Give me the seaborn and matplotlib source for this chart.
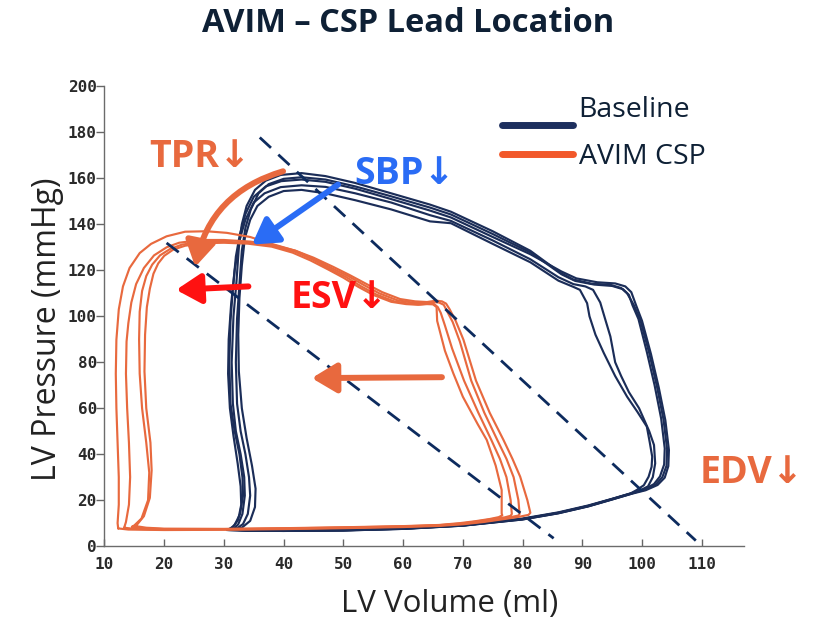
import matplotlib
matplotlib.use("Agg")
import matplotlib.pyplot as plt
import pandas as pd
import seaborn as sns
from matplotlib.lines import Line2D
from matplotlib.transforms import ScaledTranslation

# ---------------- data ----------------
# Baseline pressure-volume loops (volume ml, pressure mmHg)
base_vol_1 = [31.5, 34, 40, 50, 60, 70, 80, 86, 91, 95, 98, 100.5, 102.3, 103.4, 104.1, 104.2, 103.6, 102.5, 101.2, 99.7,
              98.6, 97.5, 96.5, 94.7, 91.5, 88.5, 86.3, 81.3, 75, 68, 64.5, 58, 52, 47, 43, 39.5, 37, 35.2, 33.8, 33,
              32.5, 32.1, 31.6, 31.3, 31.5, 32, 32.8, 33.4, 33.5, 33.1, 32.4, 31.5]
base_pres_1 = [7.2, 6.8, 6.7, 6.9, 7.6, 9, 11.8, 14.5, 17.5, 20.5, 22.8, 24.5, 26.8, 30, 35, 42, 55, 69.4, 84, 98.5,
               105, 110, 112.3, 113.7, 114.2, 116, 119, 128.5, 137, 145.5, 148.6, 153.5, 158, 161, 162.3, 161.5, 159, 155, 148, 140,
               130, 115, 100, 80, 62, 50, 40, 30, 22, 14, 9.5, 7.2]
base_vol_2 = [32, 35, 40, 50, 60, 70, 80, 86, 91, 95, 98, 100.3, 102, 103, 103.7, 103.8, 103.2, 102.1, 100.8, 99.4,
              98.4, 97.8, 96.8, 95, 92, 88.8, 86.5, 81.5, 75, 68, 64.5, 58, 52, 47, 43, 40, 37.5, 35.8, 34.5, 33.6,
              33, 32.6, 32.2, 32, 32.2, 32.8, 33.6, 34.2, 34.4, 34, 33.2, 32]
base_pres_2 = [7.4, 6.9, 6.8, 7, 7.7, 9.1, 12, 14.7, 17.7, 20.6, 22.9, 24.6, 27, 30.3, 35.5, 42.5, 55.5, 70, 84.5, 98.8,
               104.8, 109.3, 111.8, 113.2, 113.8, 115.4, 118.3, 127.5, 135.8, 144.3, 147.3, 152.2, 156.5, 159.5, 160.5, 159.8, 157.5, 153.5, 146.5, 138.5,
               128.5, 114, 99, 80, 62, 50, 40, 30, 22, 14, 9.6, 7.4]
base_vol_3 = [30.8, 34, 40, 50, 60, 70, 80, 86, 91, 95, 98, 100.6, 102.6, 103.8, 104.4, 104.5, 103.9, 102.8, 101.5, 100,
              99, 98.2, 97.2, 95.5, 92.5, 89, 86.5, 81.3, 75, 68, 64.5, 58, 52, 47, 43, 39.6, 37, 35, 33.6, 32.7,
              32, 31.5, 31.1, 30.9, 31.1, 31.8, 32.6, 33.1, 33.2, 32.7, 31.8, 30.8]
base_pres_3 = [7, 6.7, 6.6, 6.8, 7.5, 8.9, 11.6, 14.3, 17.3, 20.3, 22.6, 24.3, 26.6, 29.8, 34.8, 41.8, 54.8, 69, 83.5, 98,
               104.8, 110.5, 113, 114.3, 114.8, 116.5, 119.5, 127, 134.5, 143, 146, 151, 155.5, 158.5, 159.5, 158.8, 156.5, 152, 144.5, 136,
               126, 112, 98, 80, 62, 50, 40, 30, 22, 14, 9.2, 7]
base_vol_4 = [30.5, 34, 40, 50, 60, 70, 80, 86, 91, 95, 98, 99.5, 101, 101.8, 102.2, 102, 101.2, 99.5, 97.8, 96.5,
              95.5, 94.7, 93.8, 93, 91.8, 90.5, 88.5, 86, 81.3, 75, 68, 64.5, 58, 52, 47, 43, 39.5, 36.8, 35, 33.6,
              32.6, 31.8, 31.2, 30.8, 30.7, 31, 31.6, 32.3, 32.8, 32.9, 32.4, 31.5, 30.5]
base_pres_4 = [7, 6.7, 6.6, 6.8, 7.5, 8.9, 11.6, 14.3, 17.3, 20.3, 22.6, 24, 26, 30, 36, 44, 50, 60, 67, 74,
               80, 91.2, 99, 106, 111.5, 113, 114, 117, 124.8, 133, 141.5, 144, 149.5, 153.5, 156.3, 157, 156.2, 153.5, 149.5, 142,
               133, 120, 105, 90, 75, 60, 48, 36, 26, 18, 11.5, 8.3, 7]
base_vol_5 = [31, 34, 40, 50, 60, 70, 80, 86, 91, 95, 98, 99.1, 100.3, 101.1, 101.6, 101.7, 101.3, 100.8, 99.2, 97.5,
              95.5, 93.6, 92.2, 91.2, 90.8, 89.6, 88.5, 86, 81.3, 75, 68, 64.5, 58, 52, 47, 43, 40, 37.5, 35.6, 34.4,
              33.5, 33, 32.6, 32.4, 32.5, 33, 33.8, 34.7, 35.3, 35.2, 34.4, 33, 31]
base_pres_5 = [7.2, 6.8, 6.7, 6.9, 7.6, 9, 11.8, 14.5, 17.5, 20.5, 22.8, 24.4, 26.5, 30.2, 34.5, 38.9, 45, 52, 58.5, 65,
               74, 84, 92, 100, 105.7, 111.5, 112.8, 115.5, 123.5, 131.5, 140.5, 141.3, 146.5, 150.5, 153.5, 155, 154.5, 152, 148, 142,
               134, 122, 108, 92, 76, 60, 47, 35, 25, 17, 11, 8, 7.2]

# AVIM CSP pressure-volume loops
avim_vol_1 = [12.3, 14, 20, 30, 40, 50, 60, 66, 70, 73.5, 77, 79.5, 81, 81.3, 80.8, 79.6, 78.3, 76.8, 74.5, 72.2,
              70.1, 68.8, 67.8, 67.2, 66.5, 65.5, 64, 62, 59.5, 56.5, 53.9, 51, 48.3, 45, 42, 38, 34.4, 30.5, 27.1, 23.5,
              20.4, 17.8, 15.9, 14.2, 13.1, 12.4, 12, 11.9, 12, 12.2, 12.4, 12.4, 12.2, 12.3]
avim_pres_1 = [7.7, 7.2, 7, 7.1, 7.4, 7.8, 8.3, 8.8, 9.5, 10.5, 11.8, 12.8, 13.6, 14.5, 20, 30.2, 38, 46.2, 58, 72,
               89.8, 98, 103, 105.5, 106.5, 106.8, 106.2, 106.5, 107.5, 110.5, 114, 118, 121.5, 125.5, 128.5, 131.5, 134.5, 136.3, 137, 136.8,
               134.8, 131.5, 127.5, 121, 113, 103, 89.8, 75, 60, 45, 30, 18, 10, 7.7]
avim_vol_2 = [13.3, 15, 20, 30, 40, 50, 60, 66, 70, 73, 76, 78, 79.3, 79.5, 79.3, 78.5, 77.3, 75.8, 73.6, 71.4,
              69.5, 68.3, 67.3, 66.8, 66, 65, 63.5, 61.5, 59, 56, 53.5, 50.8, 48, 45, 42, 38, 34.4, 30, 26, 22.5,
              20.4, 18.3, 16.6, 15.3, 14.5, 14, 13.7, 13.6, 13.8, 14.1, 14.3, 14.1, 13.6, 13.3]
avim_pres_2 = [8, 7.5, 7.2, 7.3, 7.6, 8, 8.5, 9, 9.7, 10.6, 11.7, 12.6, 13.3, 14, 20, 30, 38, 46, 58, 72,
               89, 97.5, 102.5, 105, 106, 106.2, 105.7, 106, 107, 110, 113.5, 117.5, 121, 125, 128.5, 131.2, 132.5, 133.2, 133.2, 132,
               130, 126.5, 121, 114, 106, 97, 89, 75, 60, 45, 30, 18, 10.5, 8]
avim_vol_3 = [14.6, 16, 20, 30, 40, 50, 60, 66, 70, 72.5, 75, 77, 78, 78.2, 78, 77.3, 76.2, 74.8, 72.6, 70.2,
              68.2, 67, 66.3, 65.8, 65.2, 64.2, 62.8, 61, 58.5, 55.5, 53, 50.5, 47.8, 45, 42, 38, 34, 30, 26, 23,
              21, 19.3, 18, 17, 16.3, 15.9, 15.8, 15.9, 16.3, 17, 17.5, 17.3, 16.2, 15, 14.6]
avim_pres_3 = [8.4, 7.8, 7.4, 7.4, 7.7, 8.1, 8.6, 9.1, 9.9, 10.8, 11.8, 12.5, 13.2, 14, 20, 30, 38, 46, 58, 72,
               86, 96, 101.5, 104, 105.3, 105.5, 105.2, 105.5, 106.5, 109.5, 113, 117, 120.5, 124.5, 128, 130.8, 132, 132.4, 132.3, 131.2,
               129.3, 126.5, 122.5, 117.5, 111, 102, 90, 75, 60, 45, 32, 20, 12, 9, 8.4]
avim_vol_4 = [15, 17, 20, 30, 40, 50, 60, 66, 69.5, 72, 74.5, 76, 76.6, 76.5, 76.5, 75.5, 74, 72.5, 70, 68.4,
              67, 66.2, 65.7, 65.6, 65, 64, 62.5, 60.5, 58, 55, 52.5, 50, 47.5, 44.5, 41.5, 38, 34, 30, 26.5, 23.5,
              21.5, 20, 19, 18.2, 17.6, 17.1, 16.8, 16.7, 17, 17.7, 17.9, 17.6, 16.6, 15.5, 15]
avim_pres_4 = [8.8, 8, 7.6, 7.5, 7.8, 8.2, 8.7, 9.2, 10, 10.8, 11.8, 12.6, 13.4, 14.2, 24.4, 35, 46.2, 53, 65, 75.2,
               85, 93, 98, 104, 105.2, 105.3, 105, 105.3, 106.3, 109.3, 112.8, 116.8, 120.3, 124.3, 127.7, 130.3, 131.6, 132, 131.8, 130.7,
               129, 126.3, 123, 118.5, 112, 104, 92, 76, 60, 45, 33, 21, 13, 9.5, 8.8]

# dashed reference lines (start/end points)
dash_vol = [[36.0, 109.0], [20.4, 85.2]]
dash_pres = [[177.8, 2.4], [131.9, 3.4]]

# annotation labels
ann_text = ["TPR\u2193", "SBP\u2193", "ESV\u2193", "EDV\u2193"]
ann_vol = [26.0, 60.3, 49.4, 118.4]
ann_pres = [169.1, 161.7, 108.0, 31.8]

# annotation arrows
arr_start_vol = [39.9, 49.1, 34.1, 66.5]
arr_start_pres = [163.1, 157.3, 113.0, 73.5]
arr_end_vol = [25.2, 34.7, 22.0, 44.7]
arr_end_pres = [121.5, 131.2, 111.5, 73.1]
arr_rad = [0.3, 0.0, 0.0, 0.0]

x_ticks = [10, 20, 30, 40, 50, 60, 70, 80, 90, 100, 110]
y_ticks = [0, 20, 40, 60, 80, 100, 120, 140, 160, 180, 200]

# ---------------- styling ----------------
NAVY = "#1B2D58"
ORANGE = "#E8693E"
LEG_NAVY = "#1D2F5E"
LEG_ORANGE = "#F2582A"
BLUE = "#2A6CF5"
RED = "#FF1111"
DASH = "#0D2B5E"
ann_color = [ORANGE, BLUE, RED, ORANGE]

sns.set_style("ticks")
plt.rcParams["font.family"] = ["Open Sans", "DejaVu Sans"]

baseline_loops = [(base_vol_1, base_pres_1), (base_vol_2, base_pres_2), (base_vol_3, base_pres_3),
                  (base_vol_4, base_pres_4), (base_vol_5, base_pres_5)]
avim_loops = [(avim_vol_1, avim_pres_1), (avim_vol_2, avim_pres_2), (avim_vol_3, avim_pres_3),
              (avim_vol_4, avim_pres_4)]

rows = []
for group, loops in (("Baseline", baseline_loops), ("AVIM CSP", avim_loops)):
    for i, (v, p) in enumerate(loops):
        for j, (a, b) in enumerate(zip(v, p)):
            rows.append({"group": group, "cycle": f"{group}_{i}", "order": j, "vol": a, "pres": b})
df = pd.DataFrame(rows)

fig = plt.figure(figsize=(8.16, 6.22), dpi=100)
ax = fig.add_axes([0.128, 0.122, 0.784, 0.739])

sns.lineplot(data=df, x="vol", y="pres", hue="group", units="cycle", estimator=None, sort=False,
             palette={"Baseline": NAVY, "AVIM CSP": ORANGE}, linewidth=1.55, legend=False, ax=ax)

for dv, dp in zip(dash_vol, dash_pres):
    ax.plot(dv, dp, color=DASH, lw=2.0, ls=(0, (5.5, 3.6)), zorder=3)

for sv, sp, ev, ep, c, r in zip(arr_start_vol, arr_start_pres, arr_end_vol, arr_end_pres, ann_color, arr_rad):
    ax.annotate("", xy=(ev, ep), xytext=(sv, sp),
                arrowprops=dict(arrowstyle="-|>,head_length=0.75,head_width=0.45", color=c, lw=4.3,
                                mutation_scale=20, shrinkA=0, shrinkB=0,
                                connectionstyle=f"arc3,rad={r}"), zorder=5)

for t, x, y, c in zip(ann_text, ann_vol, ann_pres, ann_color):
    ax.text(x, y, t, color=c, fontsize=27, fontweight="bold", ha="center", va="center",
            family=["Open Sans", "DejaVu Sans"], clip_on=False, zorder=6)

ax.set_xlim(10, 117.1)
ax.set_ylim(0, 200)
tick_kw = {"fontfamily": "DejaVu Sans Mono", "fontweight": "bold", "fontsize": 11.5}
ax.set_xticks(x_ticks, labels=[str(t) for t in x_ticks], **tick_kw)
ax.set_yticks(y_ticks, labels=[str(t) for t in y_ticks], **tick_kw)
ax.tick_params(axis="x", direction="in", length=5, width=1, color="#666666", pad=8, labelcolor="#2a2a2a")
ax.tick_params(axis="y", direction="out", length=5.5, width=1, color="#666666", pad=0, labelcolor="#2a2a2a")
sns.despine(ax=ax)
for s in ("left", "bottom"):
    ax.spines[s].set_color("#6b6b6b")
    ax.spines[s].set_linewidth(1.0)

ax.set_xlabel("")
ax.set_ylabel("")
fig.text(0.551, 0.029, "LV Volume (ml)", fontsize=22.5, color="#222222", ha="center", va="center")
fig.text(0.058, 0.47, "LV Pressure (mmHg)", fontsize=23, color="#222222", ha="center", va="center", rotation=90)
fig.text(0.5, 0.962, "AVIM \u2013 CSP Lead Location", fontsize=23.5, fontweight="bold", color="#0E2035",
         ha="center", va="center")

handles = [Line2D([], [], color=LEG_NAVY, lw=5), Line2D([], [], color=LEG_ORANGE, lw=5)]
leg = ax.legend(handles, ["Baseline", "AVIM CSP"], loc="upper left", bbox_to_anchor=(0.615, 0.845),
                bbox_transform=fig.transFigure, frameon=False, fontsize=20.5, handlelength=2.5,
                handletextpad=0.2, labelspacing=0.64, borderpad=0, borderaxespad=0, labelcolor="#0E2035")
leg_lines = leg.get_lines()
leg_lines[0].set_transform(leg_lines[0].get_transform() + ScaledTranslation(0, -18 / 100, fig.dpi_scale_trans))

fig.savefig("out.png", dpi=100)
